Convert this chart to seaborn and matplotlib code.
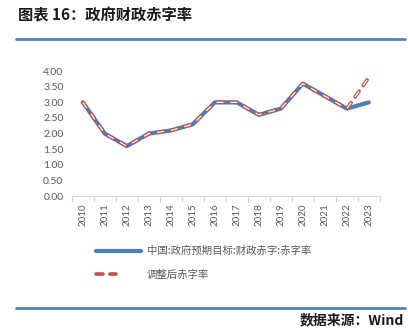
import matplotlib
matplotlib.use("Agg")
import matplotlib.pyplot as plt
import seaborn as sns
import pandas as pd
import numpy as np
from matplotlib.legend_handler import HandlerTuple
from matplotlib.lines import Line2D

sns.set_theme(style="white")
plt.rcParams['font.family'] = ['Noto Sans CJK SC', 'DejaVu Sans']
plt.rcParams['lines.scale_dashes'] = False

years = [2010, 2011, 2012, 2013, 2014, 2015, 2016, 2017, 2018, 2019, 2020, 2021, 2022, 2023]
target = [3.0, 2.0, 1.6, 2.0, 2.1, 2.3, 3.0, 3.0, 2.6, 2.8, 3.6, 3.2, 2.8, 3.0]
adjusted = [3.0, 2.0, 1.6, 2.0, 2.1, 2.3, 3.0, 3.0, 2.6, 2.8, 3.6, 3.2, 2.8, 3.8]
yticks = [0.0, 0.5, 1.0, 1.5, 2.0, 2.5, 3.0, 3.5, 4.0]
label_target = "中国:政府预期目标:财政赤字:赤字率"
label_adj = "调整后赤字率"
title = "图表 16：政府财政赤字率"
source = "数据来源：Wind"

df = pd.DataFrame({"year": years, "target": target, "adjusted": adjusted})

fig = plt.figure(figsize=(4.08, 3.34), dpi=100)
ax = fig.add_axes([0.176, 0.413, 0.755, 0.374])

blue = "#4a7ebb"
red = "#c0504d"
gray = "#595959"
dash = (5.0, 5.0)

sns.lineplot(data=df, x="year", y="target", ax=ax, color=blue, linewidth=3.0,
             solid_capstyle="round", solid_joinstyle="round", zorder=2)
sns.lineplot(data=df, x="year", y="adjusted", ax=ax, color=red, linewidth=2.6,
             zorder=3)
red_line = ax.lines[-1]
red_line.set_dashes(dash)
red_line.set_dash_capstyle("round")
red_line.set_dash_joinstyle("round")
sns.lineplot(data=df, x="year", y="adjusted", ax=ax, color="white", linewidth=0.9,
             zorder=4)
inner_line = ax.lines[-1]
inner_line.set_dashes(dash)
inner_line.set_dash_capstyle("butt")
blue_line = ax.lines[0]

ax.set_xlim(years[0] - 0.5, years[-1] + 0.5)
ax.set_ylim(0, 4.0)
ax.set_yticks(yticks)
ax.set_yticklabels([f"{v:.2f}" for v in yticks], color=gray, fontsize=7.5,
                   family=['Lato', 'DejaVu Sans'])
ax.set_xticks(years)
ax.set_xticklabels([str(y) for y in years], rotation=90, color=gray, fontsize=7,
                   family=['Lato', 'DejaVu Sans'])
ax.set_xticks(np.arange(years[0] - 0.5, years[-1] + 0.51, 1.0), minor=True)
ax.tick_params(axis='x', which='major', length=0, pad=5)
ax.tick_params(axis='x', which='minor', length=4, color="#d9d9d9", width=0.8, bottom=True)
ax.tick_params(axis='y', length=0, pad=6)
ax.set_xlabel("")
ax.set_ylabel("")
for s in ["top", "right", "left"]:
    ax.spines[s].set_visible(False)
ax.spines["bottom"].set_color("#d9d9d9")
ax.spines["bottom"].set_linewidth(0.8)
ax.grid(False)

leg = ax.legend(handles=[blue_line, (red_line, inner_line)], labels=[label_target, label_adj],
                handler_map={tuple: HandlerTuple(ndivide=None)},
                loc="upper left", bbox_to_anchor=(0.225, 0.275), bbox_transform=fig.transFigure,
                frameon=False, fontsize=7.5, handlelength=4.3, labelspacing=1.3,
                handletextpad=0.6, borderaxespad=0)
for t in leg.get_texts():
    t.set_color(gray)

fig.text(0.044, 0.955, title, fontsize=11, fontweight="bold", color="#1a1a1a",
         ha="left", va="center")
fig.add_artist(Line2D([0.04, 0.993], [0.882, 0.882], color="#4f81bd", linewidth=2.0,
                      transform=fig.transFigure))
fig.add_artist(Line2D([0.04, 0.993], [0.079, 0.079], color="#4f81bd", linewidth=2.0,
                      transform=fig.transFigure))
fig.text(0.99, 0.04, source, fontsize=10, fontweight="bold", color="#1a1a1a",
         ha="right", va="center")

fig.savefig("out.png", dpi=100)
